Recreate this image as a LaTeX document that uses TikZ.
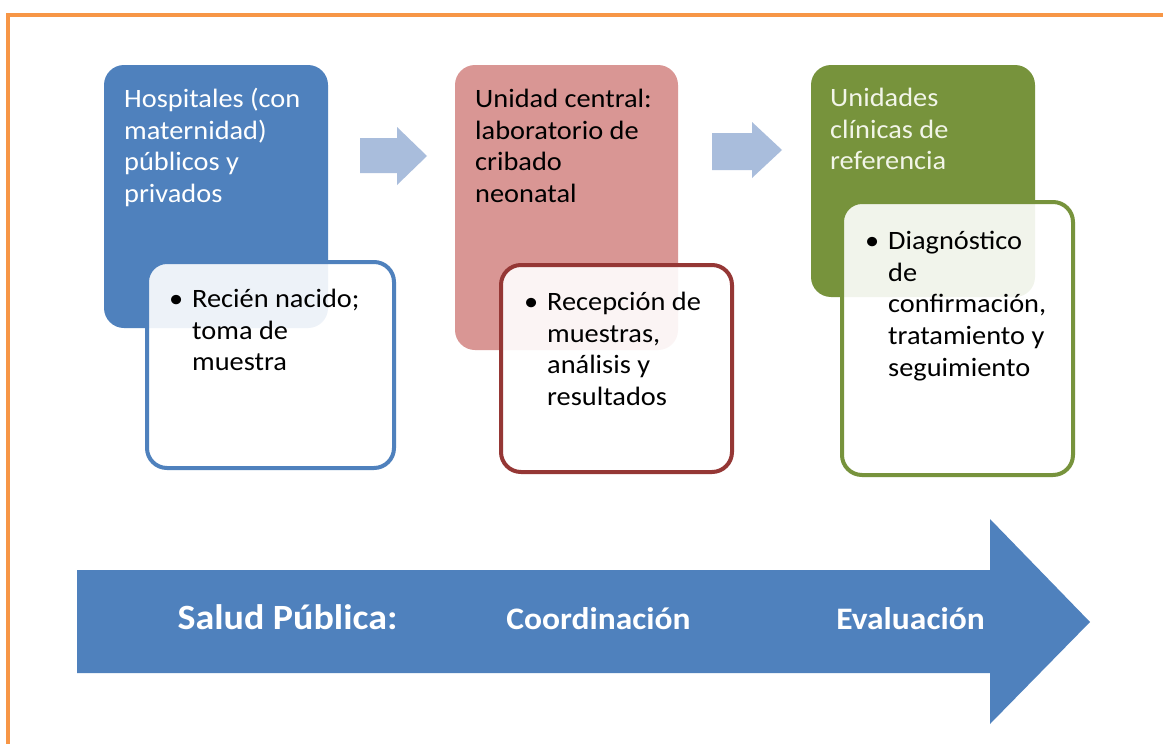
\documentclass[tikz,border=0pt]{standalone}
\usepackage{fontspec}
\setmainfont{Carlito}[FakeStretch=1.07]
\begin{document}
\begin{tikzpicture}[x=1pt,y=-1pt,
  titlebox/.style={rounded corners=20pt, draw=none},
  subbox/.style={rounded corners=20pt, line width=4pt, fill=white, fill opacity=0.9},
  boxtext/.style={anchor=north west, inner sep=0pt, align=left, font=\fontsize{26.5}{31.7}\selectfont},
  bigtext/.style={anchor=base, inner sep=0pt, text=white, font=\fontsize{35.5}{40}\selectfont\bfseries},
  midtext/.style={anchor=base, inner sep=0pt, text=white, font=\fontsize{31.3}{36}\selectfont\bfseries},
  smallarrow/.style={fill=arrowlight, draw=none},
]
\definecolor{orangeb}{HTML}{F79646}
\definecolor{blueA}{HTML}{4F81BD}
\definecolor{pinkA}{HTML}{D99694}
\definecolor{redA}{HTML}{953735}
\definecolor{greenA}{HTML}{77933C}
\definecolor{greentext}{HTML}{F2F5E8}
\definecolor{arrowlight}{HTML}{A9BDDC}
\useasboundingbox (0,0) rectangle (1163,744);
\fill[white] (0,0) rectangle (1163,744);
% orange frame
\draw[orangeb, line width=4pt] (8,746) -- (8,15) -- (1165,15);

% title boxes
\path[titlebox, fill=blueA] (104,65) rectangle (328,328) coordinate (b1);
\path[titlebox, fill=pinkA] (455,65) rectangle (678,350) coordinate (b2);
\path[titlebox, fill=greenA] (811,65) rectangle (1035,297) coordinate (b3);

\node[boxtext, text=white] (t1) at (124,85) {\strut Hospitales (con\\maternidad)\\públicos y\\privados};
\node[boxtext, text=black] (t2) at (475,85) {\strut Unidad central:\\laboratorio de\\cribado\\neonatal};
\node[boxtext, text=greentext] (t3) at (830,84) {\strut Unidades\\clínicas de\\referencia};

% sub boxes
\draw[subbox, draw=blueA] (147,262) rectangle (394,468);
\draw[subbox, draw=redA] (501,265) rectangle (732,472);
\draw[subbox, draw=greenA] (842,202) rectangle (1073,475);

\node[boxtext, text=black] (s1) at (192,285) {\strut\llap{\textbullet\hspace{9pt}}Recién nacido;\\toma de\\muestra};
\node[boxtext, text=black] (s2) at (547,288) {\strut\llap{\textbullet\hspace{9pt}}Recepción de\\muestras,\\análisis y\\resultados};
\node[boxtext, text=black] (s3) at (888,227) {\strut\llap{\textbullet\hspace{9pt}}Diagnóstico\\de\\confirmación,\\tratamiento y\\seguimiento};

% small arrows
\fill[smallarrow] (360,138) -- (397,138) -- (397,127) -- (427,156) -- (397,185) -- (397,173) -- (360,173) -- cycle;
\fill[smallarrow] (712,133) -- (752,133) -- (752,122) -- (782,150) -- (752,178) -- (752,170) -- (712,170) -- cycle;

% big arrow
\fill[blueA] (77,570) -- (990,570) -- (990,519) -- (1090,622) -- (990,724) -- (990,673) -- (77,673) -- cycle;
\node[bigtext] (p1) at (287.5,629) {Salud Pública:};
\node[midtext] (p2) at (598.5,629) {Coordinación};
\node[midtext] (p3) at (910.5,629) {Evaluación};
\end{tikzpicture}
\end{document}
